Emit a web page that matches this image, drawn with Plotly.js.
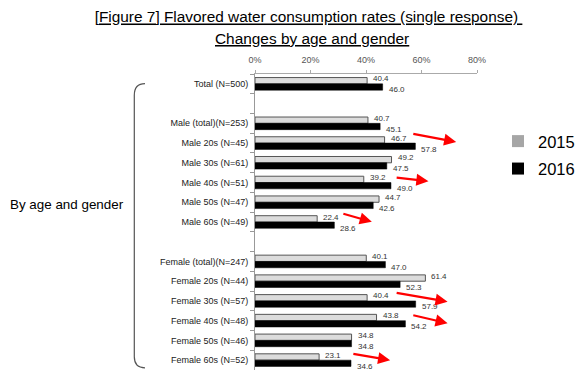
<!DOCTYPE html>
<html>
<head>
<meta charset="utf-8">
<script src="https://cdn.plot.ly/plotly-3.0.1.min.js"></script>
<style>html,body{margin:0;padding:0;background:#fff;}#chart{width:576px;height:380px;}</style>
</head>
<body>
<div id="chart"></div>
<script>
const categories = ["Total (N=500)", " ", "Male (total)(N=253)", "Male 20s (N=45)", "Male 30s (N=61)", "Male 40s (N=51)", "Male 50s (N=47)", "Male 60s (N=49)", "  ", "Female (total)(N=247)", "Female 20s (N=44)", "Female 30s (N=57)", "Female 40s (N=48)", "Female 50s (N=46)", "Female 60s (N=52)"];
const values2015 = [40.4, null, 40.7, 46.7, 49.2, 39.2, 44.7, 22.4, null, 40.1, 61.4, 40.4, 43.8, 34.8, 23.1];
const values2016 = [46.0, null, 45.1, 57.8, 47.5, 49.0, 42.6, 28.6, null, 47.0, 52.3, 57.9, 54.2, 34.8, 34.6];
const seriesNames = ["2015", "2016"];
const tickValues = [0, 20, 40, 60, 80];
const tickLabels = ["0%", "20%", "40%", "60%", "80%"];
const titleLine1 = "[Figure 7] Flavored water consumption rates (single response) ";
const titleLine2 = "Changes by age and gender";
const groupLabel = "By age and gender";
// red trend arrows: [tailX, tailY(index), headX, headY(index)]
const arrows = [
  [56.5, 2.52, 72.5, 2.94],
  [50.5, 4.74, 62.5, 4.93],
  [31.3, 6.56, 42.1, 6.99],
  [50.5, 10.58, 69.4, 11.04],
  [56.5, 11.71, 69.4, 12.13],
  [34.9, 13.67, 48.7, 14.0]
];

const FONT = "Liberation Sans, Arial, sans-serif";

const traces = [
  {type: "bar", orientation: "h", name: seriesNames[0], y: categories, x: values2015,
   marker: {color: "#dcdcdc", line: {color: "#555555", width: 1}}, showlegend: false, hoverinfo: "x+y"},
  {type: "bar", orientation: "h", name: seriesNames[1], y: categories, x: values2016,
   marker: {color: "#000000", line: {color: "#000000", width: 0.5}}, showlegend: false, hoverinfo: "x+y"},
  {type: "scatter", mode: "markers", name: seriesNames[0], x: [null], y: [null], legendgroup: "a",
   marker: {symbol: "square", size: 12, color: "#a6a6a6"}},
  {type: "scatter", mode: "markers", name: seriesNames[1], x: [null], y: [null], legendgroup: "b",
   marker: {symbol: "square", size: 12, color: "#000000"}}
];

const annotations = [];
[values2015, values2016].forEach(function(vals, s) {
  vals.forEach(function(v, i) {
    if (v === null) return;
    annotations.push({
      x: v, y: categories[i], xref: "x", yref: "y", text: v.toFixed(1),
      showarrow: false, xanchor: "left", yanchor: "middle", xshift: 4, yshift: s === 0 ? 5 : -6,
      font: {family: FONT, size: 8, color: "#333333"}
    });
  });
});
arrows.forEach(function(a) {
  annotations.push({
    x: a[2], y: a[3], ax: a[0], ay: a[1], xref: "x", yref: "y", axref: "x", ayref: "y",
    text: "", showarrow: true, arrowhead: 2, arrowsize: 1.1, arrowwidth: 2.2, arrowcolor: "#ff0000", standoff: 0
  });
});
annotations.push({
  text: "<u>" + titleLine2 + "</u>", xref: "paper", yref: "paper", x: 0.2554, y: 1.1204,
  xanchor: "center", yanchor: "middle", showarrow: false, font: {family: FONT, size: 15.4, color: "#000"}
});
annotations.push({
  text: groupLabel, xref: "paper", yref: "paper", x: -1.111, y: 0.5605,
  xanchor: "left", yanchor: "middle", showarrow: false, font: {family: FONT, size: 13.4, color: "#000"}
});

const layout = {
  width: 576, height: 380,
  margin: {l: 255, r: 99, t: 74, b: 10, pad: 0},
  paper_bgcolor: "#ffffff", plot_bgcolor: "#ffffff",
  font: {family: FONT, color: "#000"},
  title: {text: "<u>" + titleLine1 + "</u>", font: {family: FONT, size: 15.4, color: "#000"},
          xref: "container", x: 0.5356, xanchor: "center", yref: "container", y: 0.955, yanchor: "middle"},
  barmode: "group", bargap: 0.36, bargroupgap: 0,
  xaxis: {side: "top", range: [0, 80], tickvals: tickValues, ticktext: tickLabels,
          showgrid: false, zeroline: false, showline: true, linecolor: "#aaaaaa", linewidth: 1,
          ticks: "outside", ticklen: 3, tickcolor: "#aaaaaa", ticklabelstandoff: 3,
          tickfont: {family: FONT, size: 9, color: "#555555"}, fixedrange: true},
  yaxis: {type: "category", categoryorder: "array", categoryarray: categories, range: [14.5, -0.5],
          showgrid: false, zeroline: false, showline: true, linecolor: "#999999", linewidth: 1,
          ticks: "outside", tickson: "boundaries", ticklen: 4, tickcolor: "#999999",
          ticklabelstandoff: 4,
          tickfont: {family: FONT, size: 9, color: "#222222"}, fixedrange: true},
  legend: {xref: "container", yref: "container", x: 0.8646, xanchor: "left", y: 0.674, yanchor: "top",
           font: {family: FONT, size: 16.5, color: "#000"},
           tracegroupgap: 3, bgcolor: "rgba(0,0,0,0)", borderwidth: 0},
  annotations: annotations,
  shapes: [{type: "path", xref: "paper", yref: "paper",
            path: "M -0.4955,0.9676 Q -0.5437,0.9676 -0.5437,0.928 L -0.5437,0.0445 Q -0.5437,0.0074 -0.4955,0.0074",
            line: {color: "#555555", width: 1.2}}]
};

Plotly.newPlot("chart", traces, layout, {staticPlot: true, displayModeBar: false});
</script>
</body>
</html>
